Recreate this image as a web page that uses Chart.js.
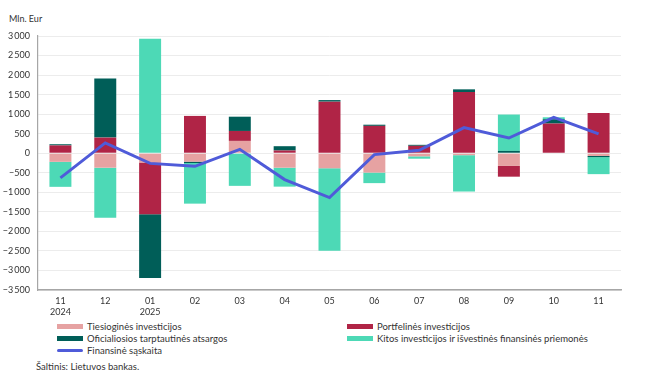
<!DOCTYPE html>
<html>
<head>
<meta charset="utf-8">
<script src="https://cdn.jsdelivr.net/npm/chart.js@4"></script>
<style>
  body { margin: 0; background: #fff; font-family: Lato, "Liberation Sans", sans-serif; }
  #wrap { position: relative; width: 652px; height: 385px; }
  #box { position: absolute; left: 0; top: 0; width: 652px; height: 320px; }
  .unit { position: absolute; left: 9px; top: 13px; font-size: 9px; color: #333; }
  .legend { position: absolute; font-size: 9.5px; color: #333; }
  .legend .it { position: absolute; white-space: nowrap; line-height: 12px; }
  .legend .sw { display: inline-block; width: 26px; height: 5px; vertical-align: middle; margin-right: 4px; position: relative; top: -1px; }
  .legend .sw.ln { height: 3px; border-radius: 2px; }
  .src { position: absolute; left: 36px; top: 361px; font-size: 9.5px; color: #333; }
</style>
</head>
<body>
<div id="wrap">
  <div class="unit">Mln. Eur</div>
  <div id="box"><canvas id="chart"></canvas></div>
  <div class="legend" id="legend"></div>
  <div class="src">Šaltinis: Lietuvos bankas.</div>
</div>
<script>
// Categories (months)
const months = [['11', '2024'], '12', ['01', '2025'], '02', '03', '04', '05', '06', '07', '08', '09', '10', '11'];

// Series values, mln. EUR
const direct    = [-220, -370, -240, -215, 315, -370, -385, -495, -80, -50, -325, 0, -70];
const portfolio = [200, 400, -1320, 955, 255, 70, 1320, 700, 190, 1565, -275, 760, 1030];
const reserves  = [30, 1515, -1630, -35, 365, 110, 40, 30, 25, 70, 60, 110, -30];
const other     = [-640, -1280, 2930, -1040, -835, -485, -2110, -270, -60, -930, 930, 50, -435];
const account   = [-630, 265, -260, -335, 100, -675, -1135, -35, 75, 655, 390, 920, 495];

const yTicks = [3000, 2500, 2000, 1500, 1000, 500, 0, -500, -1000, -1500, -2000, -2500, -3000, -3500];

const colors = {
  direct: '#e6a2a2',
  portfolio: '#b02446',
  reserves: '#005e58',
  other: '#4dd9b6',
  account: '#4f5bd9'
};

function fmt(v) {
  const s = Math.abs(v).toString().replace(/\B(?=(\d{3})+(?!\d))/g, '\u2009');
  return v < 0 ? '\u2212' + s : s;
}

function barSet(label, data, color) {
  return {
    type: 'bar', label: label, data: data, backgroundColor: color,
    borderWidth: 0,
    stack: 's', order: 2, barPercentage: 0.49, categoryPercentage: 1
  };
}

const ctx = document.getElementById('chart').getContext('2d');
new Chart(ctx, {
  data: {
    labels: months,
    datasets: [
      barSet('Tiesioginės investicijos', direct, colors.direct),
      barSet('Portfelinės investicijos', portfolio, colors.portfolio),
      barSet('Oficialiosios tarptautinės atsargos', reserves, colors.reserves),
      barSet('Kitos investicijos ir išvestinės finansinės priemonės', other, colors.other),
      {
        type: 'line', label: 'Finansinė sąskaita', data: account,
        borderColor: colors.account, borderWidth: 3, pointRadius: 0,
        tension: 0, order: 1, fill: false
      }
    ]
  },
  options: {
    responsive: true,
    maintainAspectRatio: false,
    animation: false,
    layout: { padding: { left: 0, right: 31, top: 36, bottom: 0 } },
    plugins: { legend: { display: false }, tooltip: { enabled: false } },
    scales: {
      x: {
        stacked: true,
        grid: { display: false, drawTicks: false },
        border: { display: true, color: '#a6a6a6', width: 1.5 },
        ticks: { color: '#333', font: { size: 9, family: 'Lato' }, padding: 6, maxRotation: 0, autoSkip: false },
        afterFit: s => { s.height = 30; }
      },
      y: {
        stacked: true,
        min: -3500, max: 3000,
        afterBuildTicks: s => { s.ticks = yTicks.map(v => ({ value: v })); },
        grid: { color: '#ececec', lineWidth: 1, drawTicks: false },
        border: { display: true, color: '#a6a6a6', width: 1.2 },
        ticks: { color: '#333', font: { size: 9, family: 'Lato' }, padding: 8, callback: v => fmt(v) },
        afterFit: s => { s.width = 38; }
      }
    }
  }
});

// HTML legend, two columns
const legendItems = [
  { text: 'Tiesioginės investicijos', color: colors.direct, x: 57, y: 321 },
  { text: 'Portfelinės investicijos', color: colors.portfolio, x: 347, y: 321 },
  { text: 'Oficialiosios tarptautinės atsargos', color: colors.reserves, x: 57, y: 333 },
  { text: 'Kitos investicijos ir išvestinės finansinės priemonės', color: colors.other, x: 347, y: 333 },
  { text: 'Finansinė sąskaita', color: colors.account, x: 57, y: 345, line: true }
];
const legend = document.getElementById('legend');
legendItems.forEach(it => {
  const d = document.createElement('div');
  d.className = 'it';
  d.style.left = it.x + 'px';
  d.style.top = it.y + 'px';
  d.innerHTML = `<span class="sw${it.line ? ' ln' : ''}" style="background:${it.color}"></span>${it.text}`;
  legend.appendChild(d);
});
</script>
</body>
</html>
